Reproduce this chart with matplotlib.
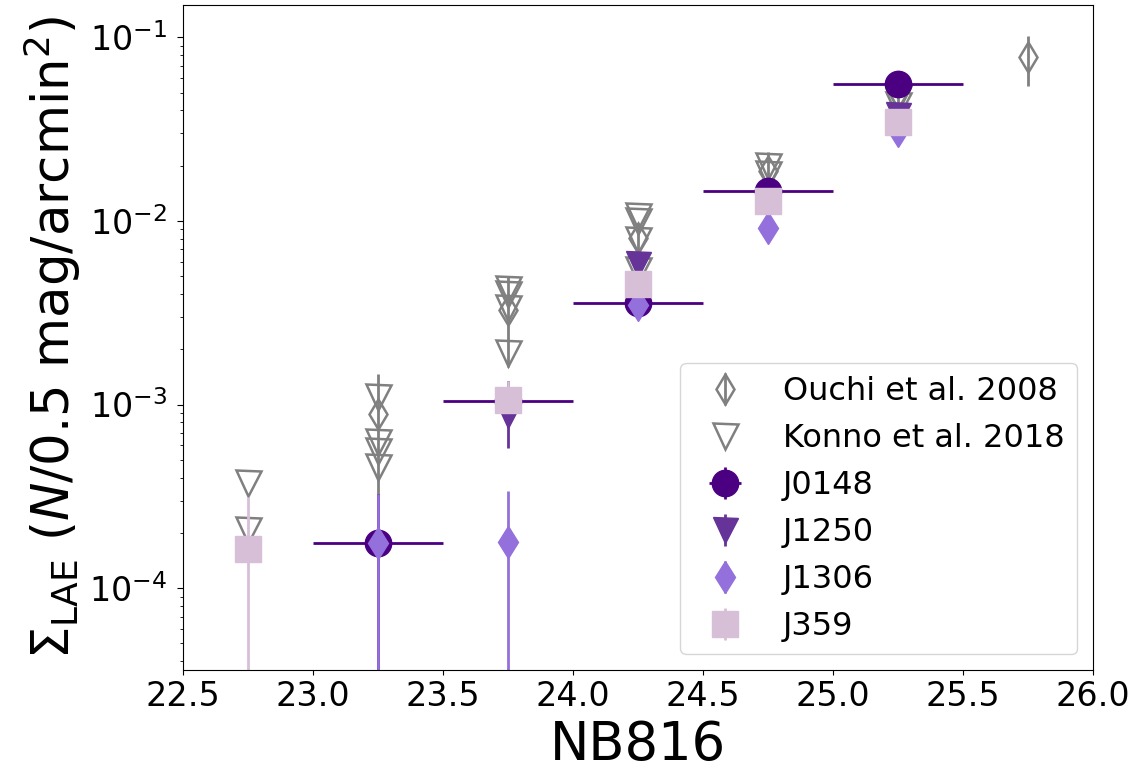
import numpy as np
import matplotlib
matplotlib.use('Agg')
import matplotlib.pyplot as plt

# Ouchi et al. 2008 (open diamonds with errors)
ouchi_mag = [23.25, 23.75, 24.25, 24.75, 25.25, 25.75]
ouchi_val = [8.85e-4, 3.26e-3, 8.1e-3, 1.88e-2, 5.0e-2, 7.8e-2]
ouchi_err = [5.8e-4, 1.66e-3, 1.7e-3, 4.8e-3, 1.5e-2, 2.35e-2]

# Konno et al. 2018 (open triangles, several fields per bin)
konno_mag = [22.75, 22.75,
             23.25, 23.25, 23.25, 23.25,
             23.75, 23.75, 23.75, 23.75,
             24.25, 24.25, 24.25, 24.25,
             24.75, 24.75,
             25.25, 25.25]
konno_val = [3.75e-4, 2.06e-4,
             1.10e-3, 6.27e-4, 5.60e-4, 4.59e-4,
             4.24e-3, 3.98e-3, 3.34e-3, 1.91e-3,
             1.07e-2, 1.0e-2, 7.9e-3, 5.4e-3,
             1.98e-2, 1.79e-2,
             4.7e-2, 4.3e-2]

# this work
j0148_mag = [23.25, 23.75, 24.25, 24.75, 25.25]
j0148_val = [1.75e-4, 1.05e-3, 3.56e-3, 1.45e-2, 5.54e-2]
j0148_err = [1.5e-4, 3.0e-4, 6.0e-4, 1.5e-3, 3.0e-3]
j0148_xerr = 0.25

j1250_mag = [23.75, 24.25, 24.75, 25.25]
j1250_val = [8.8e-4, 5.84e-3, 1.29e-2, 3.78e-2]
j1250_err = [3.0e-4, 1.0e-3, 1.2e-3, 2.5e-3]

j1306_mag = [23.25, 23.75, 24.25, 24.75, 25.25]
j1306_val = [1.75e-4, 1.78e-4, 3.47e-3, 9.12e-3, 3.07e-2]
j1306_err = [1.5e-4, 1.6e-4, 5.0e-4, 9.0e-4, 2.0e-3]

j359_mag = [22.75, 23.75, 24.25, 24.75, 25.25]
j359_val = [1.63e-4, 1.055e-3, 4.52e-3, 1.29e-2, 3.47e-2]
j359_err = [1.5e-4, 2.9e-4, 6.0e-4, 1.2e-3, 2.0e-3]

fig = plt.figure(figsize=(11.48, 7.76), dpi=100)
ax = fig.add_axes([0.1594, 0.136, 0.7927, 0.8576])

h_ouchi = ax.errorbar(ouchi_mag, ouchi_val, yerr=ouchi_err, fmt='d', color='grey',
                      mfc='none', mec='grey', ms=15, mew=1.8, elinewidth=2,
                      label='Ouchi et al. 2008')
h_konno, = ax.plot(konno_mag, konno_val, 'v', mfc='none', mec='grey', ms=18, mew=1.8,
                   label='Konno et al. 2018')

h1 = ax.errorbar(j0148_mag, j0148_val, xerr=j0148_xerr, yerr=j0148_err, fmt='o',
                 color='indigo', ms=19, elinewidth=2, label='J0148')
h2 = ax.errorbar(j1250_mag, j1250_val, yerr=j1250_err, fmt='v',
                 color='rebeccapurple', ms=18, elinewidth=2, label='J1250')
h3 = ax.errorbar(j1306_mag, j1306_val, yerr=j1306_err, fmt='d',
                 color='mediumpurple', ms=16.5, elinewidth=2, label='J1306')
h4 = ax.errorbar(j359_mag, j359_val, yerr=j359_err, fmt='s',
                 color='thistle', ms=19, elinewidth=2, label='J359')

ax.set_yscale('log')
ax.set_xlim(22.5, 26.0)
ax.set_ylim(3.56e-5, 0.150)
ax.tick_params(axis='both', which='major', labelsize=24)
ax.tick_params(axis='y', which='major', pad=7, length=4.5)
ax.set_xlabel('NB816', fontsize=38, labelpad=4)
ax.set_ylabel(r'$\Sigma_{\rm LAE}$ ($N$/0.5 mag/arcmin$^2$)', fontsize=37, labelpad=4)

handles = [h_ouchi, h_konno, h1, h2, h3, h4]
ax.legend(handles, [h.get_label() for h in handles], loc='lower right', fontsize=23)

fig.savefig('out.png', dpi=100)
